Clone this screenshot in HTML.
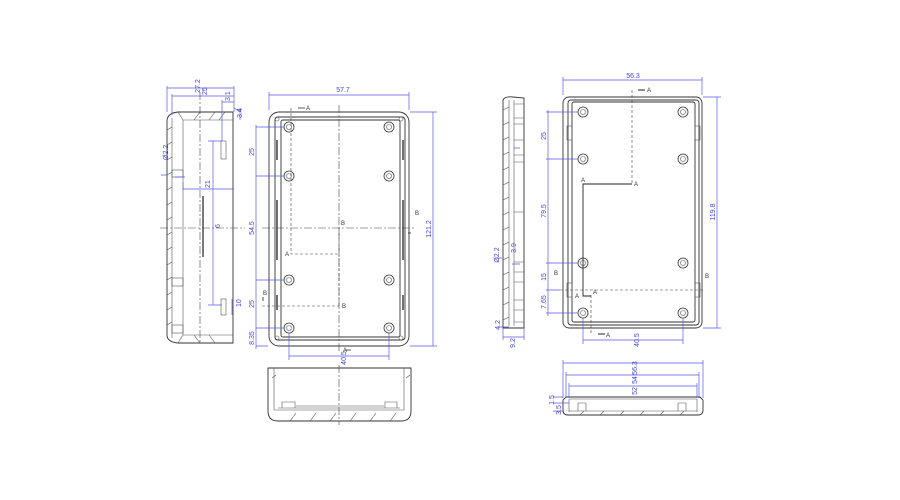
<!DOCTYPE html>
<html><head><meta charset="utf-8"><style>
html,body{margin:0;padding:0;background:#fff;}
svg{display:block}
text{font-family:"Liberation Sans",sans-serif;font-size:7px;fill:#4646e0}
.k{stroke:#333;stroke-width:0.9;fill:none}
.t{stroke:#555;stroke-width:0.6;fill:none}
.d{stroke:#5a5ae6;stroke-width:0.7;fill:none}
.c{stroke:#444;stroke-width:0.6;fill:none;stroke-dasharray:8 2 2 2}
.h{stroke:#444;stroke-width:0.6;fill:none;stroke-dasharray:3 2}
</style></head><body>
<svg width="900" height="500" viewBox="0 0 900 500" xmlns="http://www.w3.org/2000/svg">
<rect width="900" height="500" fill="#fff"/>

<!-- LEFT SIDE VIEW -->
<path class="k" d="M167,120 Q168,113 178,112 L233,112 L233,343 L178,343 Q167,342 167,335 Z"/>
<path class="t" d="M172,118 L172,338 M183,120 L183,335 M178,112 L183,120 M183,120 L233,120 M183,335 L233,335 M178,343 L183,335"/>
<path class="t" d="M167,130 l5,-3 M167,145 l5,-3 M167,160 l5,-3 M167,175 l5,-3 M167,190 l5,-3 M167,205 l5,-3 M167,220 l5,-3 M167,235 l5,-3 M167,250 l5,-3 M167,265 l5,-3 M167,280 l5,-3 M167,295 l5,-3 M167,310 l5,-3 M167,325 l5,-3"/>
<path class="t" d="M200,112 l-6,8 M215,112 l-6,8 M225,112 l-6,8 M200,343 l-6,-8 M215,343 l-6,-8"/>
<rect class="t" x="172" y="170" width="11" height="7"/><rect class="t" x="172" y="278" width="11" height="8"/><rect class="t" x="172" y="325" width="11" height="8"/>
<rect class="t" x="221" y="141" width="5" height="18"/><rect class="t" x="221" y="299" width="5" height="16"/>
<line x1="203" y1="196" x2="203" y2="257" stroke="#222" stroke-width="1.2"/>
<line class="c" x1="200" y1="92" x2="200" y2="343"/>
<line class="c" x1="160" y1="228" x2="245" y2="228"/>
<!-- side dims -->
<path class="d" d="M167,86 L167,112 M234,86 L234,112 M167,88 L234,88 M172,94 L172,115 M172,96 L234,96 M222,100 L222,141 M222,102 L234,102 M234,108 L240,112 M240,108 L240,120 M183,188 L183,189 M183,189 L234,189 M183,182 L183,190 M213,141 L213,305 M208,141 L222,141 M208,305 L222,305 M232,299 L232,315 M161,175 l6,0 M175,177 l10,0"/>
<text x="200" y="86" transform="rotate(-90 200 86)" text-anchor="middle" dy="0">27.2</text>
<text x="203" y="99" transform="rotate(-90 203 95)">25</text>
<text x="231" y="102" transform="rotate(-90 230 102)">3.1</text>
<text x="240" y="120" transform="rotate(-90 240 118)">3.4</text>
<text x="206" y="192" transform="rotate(-90 206 188)">21</text>
<text x="216" y="232" transform="rotate(-90 216 228)">6</text>
<text x="163" y="165" transform="rotate(-90 163 160)">Ø2.2</text>
<text x="238" y="310" transform="rotate(-90 238 307)">10</text>

<!-- TOP VIEW 1 -->
<rect class="k" x="269" y="112" width="140" height="234" rx="10"/>
<rect class="k" x="275" y="117" width="130" height="223" rx="3"/>
<rect class="k" x="281" y="120" width="119" height="217" rx="2"/>
<g class="t"><circle cx="277" cy="119" r="2"/><circle cx="401" cy="119" r="2"/><circle cx="277" cy="338" r="2"/><circle cx="401" cy="338" r="2"/></g>
<g fill="#fff" stroke="#333" stroke-width="0.8">
<circle cx="289" cy="127" r="5"/><circle cx="389" cy="127" r="5"/><circle cx="289" cy="176" r="5"/><circle cx="389" cy="176" r="5"/>
<circle cx="289" cy="280" r="5"/><circle cx="389" cy="280" r="5"/><circle cx="289" cy="328" r="5"/><circle cx="389" cy="328" r="5"/>
</g>
<g class="t"><circle cx="289" cy="127" r="2.5"/><circle cx="389" cy="127" r="2.5"/><circle cx="289" cy="176" r="2.5"/><circle cx="389" cy="176" r="2.5"/>
<circle cx="289" cy="280" r="2.5"/><circle cx="389" cy="280" r="2.5"/><circle cx="289" cy="328" r="2.5"/><circle cx="389" cy="328" r="2.5"/></g>
<g stroke="#222" stroke-width="1.3"><line x1="277" y1="140" x2="277" y2="160"/><line x1="277" y1="200" x2="277" y2="260"/><line x1="277" y1="295" x2="277" y2="310"/><line x1="403" y1="140" x2="403" y2="160"/><line x1="403" y1="200" x2="403" y2="260"/><line x1="403" y1="295" x2="403" y2="310"/></g>
<line class="c" x1="339" y1="105" x2="339" y2="352"/>
<line class="c" x1="262" y1="228" x2="415" y2="228"/>
<path class="h" d="M291,108 L291,254 L339,254 M262,306 L339,306 M339,228 L339,306"/>
<path stroke="#222" stroke-width="0.8" fill="none" d="M298,108 l7,0 M408,233 l3,0 M345,350 l6,0 M263,297 l0,4"/>
<g font-size="6"><text x="306" y="110" style="font-size:6px;fill:#333">A</text><text x="343" y="352" style="font-size:6px;fill:#333">A</text><text x="285" y="256" style="font-size:6px;fill:#333">A</text><text x="341" y="225" style="font-size:6px;fill:#333">B</text><text x="342" y="308" style="font-size:6px;fill:#333">B</text><text x="263" y="295" style="font-size:6px;fill:#333">B</text><text x="415" y="215" style="font-size:6px;fill:#333">B</text></g>
<path class="d" d="M269,92 L269,110 M409,92 L409,110 M269,95 L409,95 M410,112 L437,112 M410,346 L437,346 M433,112 L433,346 M256,127 L284,127 M256,176 L284,176 M256,280 L284,280 M256,328 L284,328 M256,346 L268,346 M256,125 L256,349 M289,333 L289,360 M389,333 L389,360 M289,356 L389,356"/>
<text x="343" y="92" text-anchor="middle">57.7</text>
<text x="431" y="229" transform="rotate(-90 431 229)" text-anchor="middle">121.2</text>
<text x="254" y="152" transform="rotate(-90 254 152)" text-anchor="middle">25</text>
<text x="254" y="228" transform="rotate(-90 254 228)" text-anchor="middle">54.5</text>
<text x="254" y="304" transform="rotate(-90 254 304)" text-anchor="middle">25</text>
<text x="254" y="338" transform="rotate(-90 254 338)" text-anchor="middle">8.35</text>
<text x="342" y="362" transform="rotate(-90 342 358)" text-anchor="middle">40.5</text>

<!-- BOTTOM VIEW LEFT -->
<path class="k" d="M268,368 L411,368 L411,411 Q411,421 401,421 L278,421 Q268,421 268,411 Z"/>
<path class="t" d="M274,368 L274,410 L404,410 L404,368 M278,408 L400,408 M282,408 L282,402 L295,402 L295,408 M385,408 L385,402 L397,402 L397,408 M296,406 L384,406"/>
<path class="t" d="M272,378 l4,-3 M406,378 l4,-3 M290,421 l6,-8 M310,421 l6,-8 M330,421 l6,-8 M350,421 l6,-8 M370,421 l6,-8 M390,421 l6,-8"/>
<line class="c" x1="339" y1="365" x2="339" y2="425"/>

<!-- RIGHT SIDE VIEW -->
<path class="k" d="M503,100 Q505,96 513,97 L524,98 L524,328 L503,328 Z"/>
<path class="t" d="M509,100 L509,326 M514,100 L514,326 M514,104 L524,104 M514,118 L524,118 M514,124 L524,124 M514,140 L524,140 M514,155 L524,155 M514,162 L524,162 M514,212 L524,212 M514,262 L524,262 M514,272 L524,272 M514,282 L524,282 M514,300 L524,300 M514,310 L524,310 M514,322 L524,322"/>
<path class="t" d="M503,110 l6,-3 M503,125 l6,-3 M503,140 l6,-3 M503,155 l6,-3 M503,170 l6,-3 M503,185 l6,-3 M503,200 l6,-3 M503,215 l6,-3 M503,230 l6,-3 M503,245 l6,-3 M503,260 l6,-3 M503,275 l6,-3 M503,290 l6,-3 M503,305 l6,-3 M503,320 l6,-3"/>
<path class="d" d="M503,328 L503,340 M524,328 L524,340 M503,337 L524,337 M497,327 L509,327 M496,258 l6,0 M514,148 l6,0 M512,264 l8,0"/>
<text x="500" y="325" transform="rotate(-90 500 325)" text-anchor="middle">4.2</text>
<text x="514" y="344" transform="rotate(-90 514 343)" text-anchor="middle">9.2</text>
<text x="499" y="255" transform="rotate(-90 499 255)" text-anchor="middle">Ø2.2</text>
<text x="516" y="248" transform="rotate(-90 516 248)" text-anchor="middle">3.9</text>

<!-- TOP VIEW 2 -->
<rect class="k" x="563" y="97" width="139" height="231" rx="6"/>
<rect class="k" x="568" y="100" width="131" height="225" rx="3"/>
<rect class="k" x="572" y="102" width="123" height="220" rx="2"/>
<g class="t"><rect x="567" y="126" width="5" height="14"/><rect x="695" y="126" width="5" height="14"/><rect x="567" y="283" width="5" height="14"/><rect x="695" y="283" width="5" height="14"/></g>
<g fill="#fff" stroke="#333" stroke-width="0.8">
<circle cx="583" cy="112" r="5"/><circle cx="683" cy="112" r="5"/><circle cx="583" cy="159" r="5"/><circle cx="683" cy="159" r="5"/>
<circle cx="583" cy="263" r="5"/><circle cx="683" cy="263" r="5"/><circle cx="583" cy="313" r="5"/><circle cx="683" cy="313" r="5"/></g>
<g class="t"><circle cx="583" cy="112" r="2.5"/><circle cx="683" cy="112" r="2.5"/><circle cx="583" cy="159" r="2.5"/><circle cx="683" cy="159" r="2.5"/>
<circle cx="583" cy="263" r="2.5"/><circle cx="683" cy="263" r="2.5"/><circle cx="583" cy="313" r="2.5"/><circle cx="683" cy="313" r="2.5"/></g>
<path class="h" d="M632,90 L632,184 M591,295 L591,335 M560,290 L705,290"/>
<path stroke="#222" stroke-width="0.9" fill="none" d="M632,184 L583,184 L583,296 L591,296 M638,90 l7,0 M598,334 l7,0"/>
<g style="font-size:6px"><text x="647" y="92" style="font-size:6px;fill:#333">A</text><text x="634" y="186" style="font-size:6px;fill:#333">A</text><text x="581" y="182" style="font-size:6px;fill:#333">A</text><text x="575" y="298" style="font-size:6px;fill:#333">A</text><text x="593" y="294" style="font-size:6px;fill:#333">A</text><text x="606" y="337" style="font-size:6px;fill:#333">A</text><text x="554" y="275" style="font-size:6px;fill:#333">B</text><text x="705" y="278" style="font-size:6px;fill:#333">B</text></g>
<path class="d" d="M563,77 L563,95 M702,77 L702,95 M563,80 L702,80 M703,97 L721,97 M703,328 L721,328 M717,97 L717,328 M546,112 L578,112 M546,159 L578,159 M546,263 L578,263 M546,290 L560,290 M546,313 L578,313 M548,110 L548,316 M583,318 L583,344 M683,318 L683,344 M583,340 L683,340"/>
<text x="633" y="78" text-anchor="middle">56.3</text>
<text x="715" y="212" transform="rotate(-90 715 212)" text-anchor="middle">119.8</text>
<text x="546" y="136" transform="rotate(-90 546 136)" text-anchor="middle">25</text>
<text x="546" y="211" transform="rotate(-90 546 211)" text-anchor="middle">79.5</text>
<text x="546" y="277" transform="rotate(-90 546 277)" text-anchor="middle">15</text>
<text x="546" y="302" transform="rotate(-90 546 302)" text-anchor="middle">7.65</text>
<text x="636" y="343" transform="rotate(-90 636 340)" text-anchor="middle">40.5</text>

<!-- BOTTOM VIEW RIGHT -->
<path class="k" d="M566,397 L700,397 L703,400 L703,410 Q703,415 698,415 L568,415 Q563,415 563,410 L563,400 Z"/>
<path class="t" d="M569,399 L697,399 M569,399 L569,412 M697,399 L697,412 M578,411 L578,403 L586,403 L586,411 M678,411 L678,403 L686,403 L686,411 M569,411 L697,411"/>
<path class="t" d="M580,415 l4,-4 M600,415 l4,-4 M620,415 l4,-4 M640,415 l4,-4 M660,415 l4,-4 M680,415 l4,-4"/>
<path class="d" d="M563,360 L563,398 M703,360 L703,398 M563,363 L703,363 M566,372 L566,398 M699,372 L699,398 M566,375 L699,375 M569,383 L569,398 M697,383 L697,398 M569,386 L697,386 M553,397 L563,397 M553,403 L569,403 M553,411 L563,411"/>
<text x="634" y="371" transform="rotate(-90 634 368)" text-anchor="middle">56.3</text>
<text x="634" y="383" transform="rotate(-90 634 380)" text-anchor="middle">54</text>
<text x="634" y="394" transform="rotate(-90 634 391)" text-anchor="middle">52</text>
<text x="552" y="402" transform="rotate(-90 552 400)" text-anchor="middle">1.5</text>
<text x="559" y="412" transform="rotate(-90 559 410)" text-anchor="middle">3.5</text>
</svg>
</body></html>
